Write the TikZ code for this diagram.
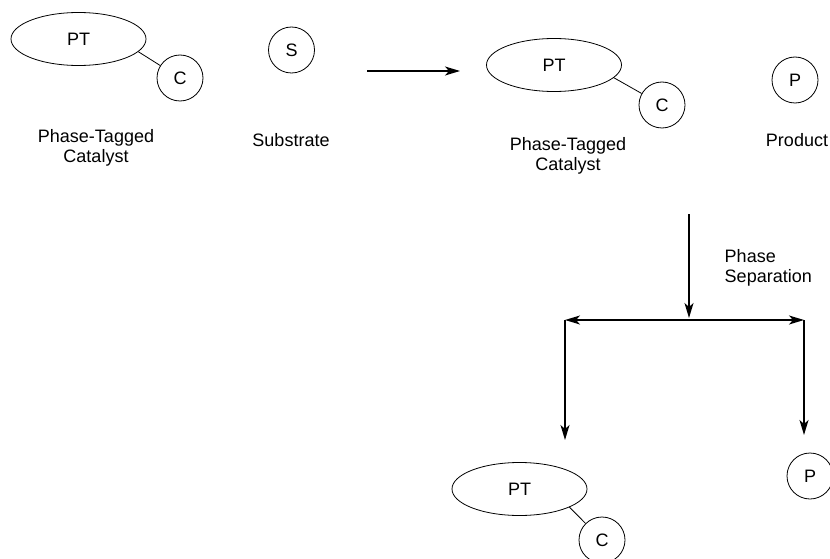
\documentclass[tikz,border=0pt]{standalone}
\usepackage{fontspec}
\setmainfont{Liberation Sans}
\usetikzlibrary{arrows.meta, shapes.geometric}

\tikzset{
  tag/.style={draw, ellipse, minimum width=135pt, minimum height=53pt, inner sep=0pt},
  ball/.style={draw, circle, minimum size=46pt, inner sep=0pt},
  lbl/.style={align=center},
  flow/.style={-{Stealth[length=15pt,width=9pt,inset=4pt]}, line width=1.3pt},
  split/.style={{Stealth[length=15pt,width=9pt,inset=4pt]}-{Stealth[length=15pt,width=9pt,inset=4pt]}, line width=1.3pt},
}

\begin{document}
\begin{tikzpicture}[x=1pt, y=-1pt, line width=0.8pt, font=\fontsize{18}{20}\selectfont]
    \useasboundingbox (0,0) rectangle (830,559);
    % Starting materials
    \node[tag] (pt1) at (78.5,39) {PT};
    \node[ball] (c1) at (180,78) {C};
    \draw (pt1.-12) -- (c1);
    \node[ball] (s) at (291.5,50) {S};
    \node[lbl] (l1) at (96,147.5) {Phase-Tagged\\Catalyst};
    \node[lbl] (l2) at (291,140) {Substrate};
    % Reaction arrow
    \coordinate (r0) at (367,71);
    \coordinate (r1) at (460,71);
    \draw[flow] (r0) -- (r1);
    % After reaction
    \node[tag] (pt2) at (554,65) {PT};
    \node[ball] (c2) at (662,105) {C};
    \draw (pt2.-12) -- (c2);
    \node[ball] (p1) at (795,80) {P};
    \node[lbl] (l3) at (568,155.5) {Phase-Tagged\\Catalyst};
    \node[lbl] (l4) at (797,140) {Product};
    % Phase separation
    \coordinate (v0) at (689,214);
    \coordinate (v1) at (689,318);
    \coordinate (hl) at (565,320);
    \coordinate (hr) at (804,320);
    \coordinate (dl) at (565,440);
    \coordinate (dr) at (804,435);
    \draw[flow] (v0) -- (v1);
    \draw[split] (hl) -- (hr);
    \draw[flow] (hl) -- (dl);
    \draw[flow] (hr) -- (dr);
    \node[anchor=west, align=left] (l5) at (721,268) {Phase\\Separation};
    % Separated products
    \node[tag] (pt3) at (519.5,489) {PT};
    \node[ball] (c3) at (602,540) {C};
    \draw (pt3.-20) -- (c3);
    \node[ball] (p2) at (810,476) {P};
\end{tikzpicture}
\end{document}
